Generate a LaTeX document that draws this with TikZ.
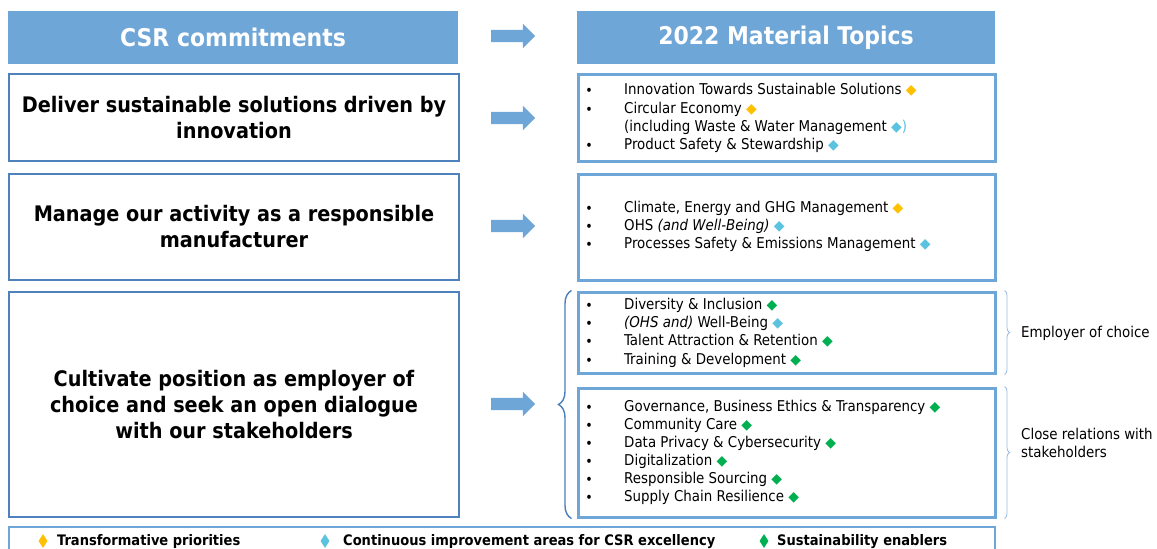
\documentclass[tikz,border=0pt]{standalone}
\usepackage{fontspec}
\setmainfont{DejaVu Sans Condensed}
\newfontfamily\symfnt{DejaVu Sans}
\usetikzlibrary{shapes.arrows,shapes.geometric,decorations.pathreplacing}
\definecolor{hdr}{HTML}{6FA6D8}
\definecolor{lbord}{HTML}{4F81BD}
\definecolor{rbord}{HTML}{6FA6D8}
\definecolor{brc}{HTML}{4A7EBB}
\definecolor{sbrc}{HTML}{9DBBE0}
\definecolor{dyel}{HTML}{FFC000}
\definecolor{dcya}{HTML}{5BC3DF}
\definecolor{dgrn}{HTML}{00B050}
\newcommand{\dmY}{\textcolor{dyel}{\symfnt\fontsize{14}{14}\selectfont ◆}}
\newcommand{\dmC}{\textcolor{dcya}{\symfnt\fontsize{14}{14}\selectfont ◆}}
\newcommand{\dmG}{\textcolor{dgrn}{\symfnt\fontsize{14}{14}\selectfont ◆}}
\tikzset{
  hdrbox/.style={fill=hdr, draw=none, text=white, inner sep=0, minimum height=53pt,
    font=\bfseries\fontsize{24.4}{28}\selectfont},
  lbox/.style={draw=lbord, line width=1.5pt, align=center, inner sep=0, minimum width=450pt,
    font=\bfseries\fontsize{21.4}{26}\selectfont},
  rbox/.style={draw=rbord, line width=3pt, inner sep=0, minimum width=417pt},
  itm/.style={anchor=mid west, inner sep=0, font=\fontsize{14.9}{18}\selectfont},
  bul/.style={anchor=center, inner sep=0, font=\fontsize{14}{14}\selectfont},
  blk/.style={single arrow, fill=hdr, draw=none, inner xsep=0pt, inner ysep=6pt, minimum height=44pt,
    minimum width=24pt, single arrow head extend=6pt},
  bigbrace/.style={draw=brc, line width=1.4pt, decorate, decoration={brace, amplitude=13pt}},
  smbrace/.style={draw=sbrc, line width=0.8pt, decorate, decoration={brace, amplitude=5pt}},
  lgd/.style={anchor=mid west, inner sep=0, font=\bfseries\fontsize{14.5}{16}\selectfont},
  ldia/.style={diamond, inner sep=0, minimum width=9pt, minimum height=14pt},
}
\begin{document}
\begin{tikzpicture}[x=1pt,y=-1pt]
\useasboundingbox (0,0) rectangle (1157,549);
\clip (0,0) rectangle (1157,549);
\fill[white] (0,0) rectangle (1157,549);

% headers
\node[hdrbox, minimum width=450pt] (hl) at (233,37.5) {CSR commitments};
\node[hdrbox, minimum width=418pt] (hr) at (786,37.5) {2022 Material Topics};
\node[blk] (a0) at (510,36) {};

% left boxes
\node[lbox, minimum height=87pt] (l1) at (234,117.5) {Deliver sustainable solutions driven by\\innovation};
\node[lbox, minimum height=106pt] (l2) at (234,227) {Manage our activity as a responsible\\manufacturer};
\node[lbox, minimum height=225pt] (l3) at (234,404.5) {Cultivate position as employer of\\choice and seek an open dialogue\\with our stakeholders};

% right boxes
\node[rbox, minimum height=87pt] (r1) at (786.5,117.5) {};
\node[rbox, minimum height=106pt] (r2) at (786.5,227) {};
\node[rbox, minimum height=81pt] (r3a) at (786.5,332.5) {};
\node[rbox, minimum height=129pt] (r3b) at (786.5,452.5) {};

% block arrows
\node[blk] (a1) at (510,118) {};
\node[blk] (a2) at (510,226) {};
\node[blk] (a3) at (510,404) {};

% braces
\draw[bigbrace] ([xshift=-5pt]r3b.south west) -- ([xshift=-5pt]r3a.north west);
\draw[smbrace] ([xshift=8pt]r3a.north east) -- ([xshift=8pt]r3a.south east);
\draw[smbrace] ([xshift=8pt]r3b.north east) -- ([xshift=8pt]r3b.south east);
\node[itm] (e1) at (1021,335) {Employer of choice};
\node[itm, align=left, font=\fontsize{14.9}{18}\selectfont] (e2) at (1021,455) {Close relations with\\stakeholders};

% box 1 items
\node[bul] (b1) at (589,92) {•};
\node[bul] (b2) at (589,111) {•};
\node[bul] (b3) at (589,147) {•};
\node[itm] (t1) at (624,92) {Innovation Towards Sustainable Solutions \dmY};
\node[itm] (t2) at (624,111) {Circular Economy \dmY};
\node[itm] (t3) at (624,129) {(including Waste \& Water Management \dmC\textcolor{dcya}{)}};
\node[itm] (t4) at (624,147) {Product Safety \& Stewardship \dmC};

% box 2 items
\node[bul] (b5) at (589,210) {•};
\node[bul] (b6) at (589,228) {•};
\node[bul] (b7) at (589,246) {•};
\node[itm] (t5) at (624,210) {Climate, Energy and GHG Management \dmY};
\node[itm] (t6) at (624,228) {OHS \textit{(and Well-Being)} \dmC};
\node[itm] (t7) at (624,246) {Processes Safety \& Emissions Management \dmC};

% box 3a items
\node[bul] (b8) at (589,307) {•};
\node[bul] (b9) at (589,325) {•};
\node[bul] (b10) at (589,343) {•};
\node[bul] (b11) at (589,362) {•};
\node[itm] (t8) at (624,307) {Diversity \& Inclusion \dmG};
\node[itm] (t9) at (624,325) {\textit{(OHS and)} Well-Being \dmC};
\node[itm] (t10) at (624,343) {Talent Attraction \& Retention \dmG};
\node[itm] (t11) at (624,362) {Training \& Development \dmG};

% box 3b items
\node[bul] (b12) at (589,409) {•};
\node[bul] (b13) at (589,427) {•};
\node[bul] (b14) at (589,445) {•};
\node[bul] (b15) at (589,463) {•};
\node[bul] (b16) at (589,481) {•};
\node[bul] (b17) at (589,499) {•};
\node[itm] (t12) at (624,409) {Governance, Business Ethics \& Transparency \dmG};
\node[itm] (t13) at (624,427) {Community Care \dmG};
\node[itm] (t14) at (624,445) {Data Privacy \& Cybersecurity \dmG};
\node[itm] (t15) at (624,463) {Digitalization \dmG};
\node[itm] (t16) at (624,481) {Responsible Sourcing \dmG};
\node[itm] (t17) at (624,499) {Supply Chain Resilience \dmG};

% legend
\node[draw=rbord, line width=1.2pt, minimum width=986pt, minimum height=38pt, inner sep=0] (lg) at (502,546) {};
\node[ldia, fill=dyel] (d1) at (43,541) {};
\node[lgd] (g1) at (57,543) {Transformative priorities};
\node[ldia, fill=dcya] (d2) at (325,541) {};
\node[lgd] (g2) at (343,543) {Continuous improvement areas for CSR excellency};
\node[ldia, fill=dgrn] (d3) at (764,541) {};
\node[lgd] (g3) at (777,543) {Sustainability enablers};
\end{tikzpicture}
\end{document}
